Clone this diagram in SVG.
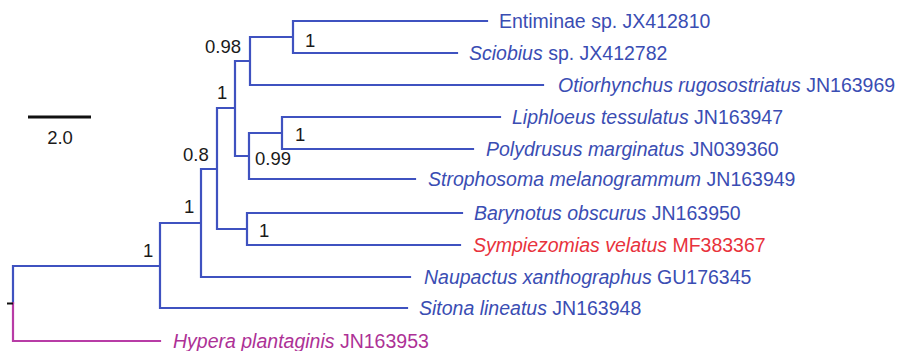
<svg xmlns="http://www.w3.org/2000/svg" width="899" height="351" viewBox="0 0 899 351">
<style>
.br{fill:none;stroke:#3f52c0;stroke-width:2.2;stroke-linecap:square}
.pu{fill:none;stroke:#b83ca6;stroke-width:2.2;stroke-linecap:square}
.tx{font-family:"Liberation Sans",Arial,sans-serif;font-size:19.5px;fill:#3a4db3}
.red{fill:#e8323c}
.pur{fill:#ad3196}
.sup{font-family:"Liberation Sans",Arial,sans-serif;font-size:18.5px;fill:#1a1a1a}
.it{font-style:italic}
</style>
<rect width="899" height="351" fill="#ffffff"/>
<g id="connectors">
<path class="br" d="M13,303 V266 H160 M160,223 V308 H407 M160,223 H201 M201,169 V277 H410 M201,169 H217 M217,108 V229 H247 M247,213 V245 M247,213 H462 M247,245 H460 M217,108 H235 M235,61 V156 H249 M235,61 H250 M250,37 V85 H543 M250,37 H293 M293,21 V53 M293,21 H487 M293,53 H457 M249,133 V179 H415 M249,133 H282 M282,117 V149 M282,117 H500 M282,149 H473"/>
<path class="pu" d="M13,303 V341 H160"/>
<line x1="7" y1="303.5" x2="13" y2="303.5" stroke="#111" stroke-width="2"/>
</g>
<g id="scale">
<line x1="28" y1="117" x2="91" y2="117" stroke="#111" stroke-width="3"/>
<text class="sup" x="60" y="144" text-anchor="middle">2.0</text>
</g>
<g id="support">
<text class="sup" x="305" y="47">1</text>
<text class="sup" x="205" y="53">0.98</text>
<text class="sup" x="217" y="99">1</text>
<text class="sup" x="295" y="141">1</text>
<text class="sup" x="255" y="165">0.99</text>
<text class="sup" x="183" y="161">0.8</text>
<text class="sup" x="184" y="213">1</text>
<text class="sup" x="259" y="237">1</text>
<text class="sup" x="143" y="257">1</text>
</g>
<g id="n-entiminae"><text class="tx" x="499" y="28">Entiminae sp. JX412810</text></g>
<g id="n-sciobius"><text class="tx" x="469" y="60"><tspan class="it">Sciobius</tspan> sp. JX412782</text></g>
<g id="n-otiorhynchus"><text class="tx" x="558" y="92"><tspan class="it">Otiorhynchus rugosostriatus</tspan> JN163969</text></g>
<g id="n-liphloeus"><text class="tx" x="512" y="124"><tspan class="it">Liphloeus tessulatus</tspan> JN163947</text></g>
<g id="n-polydrusus"><text class="tx" x="486" y="156"><tspan class="it">Polydrusus marginatus</tspan> JN039360</text></g>
<g id="n-strophosoma"><text class="tx" x="428" y="186"><tspan class="it">Strophosoma melanogrammum</tspan> JN163949</text></g>
<g id="n-barynotus"><text class="tx" x="474" y="220"><tspan class="it">Barynotus obscurus</tspan> JN163950</text></g>
<g id="n-sympiezomias"><text class="tx red" x="473" y="252"><tspan class="it">Sympiezomias velatus</tspan> MF383367</text></g>
<g id="n-naupactus"><text class="tx" x="424" y="284"><tspan class="it">Naupactus xanthographus</tspan> GU176345</text></g>
<g id="n-sitona"><text class="tx" x="419" y="315"><tspan class="it">Sitona lineatus</tspan> JN163948</text></g>
<g id="n-hypera"><text class="tx pur" x="173" y="348"><tspan class="it">Hypera plantaginis</tspan> JN163953</text></g>
</svg>
